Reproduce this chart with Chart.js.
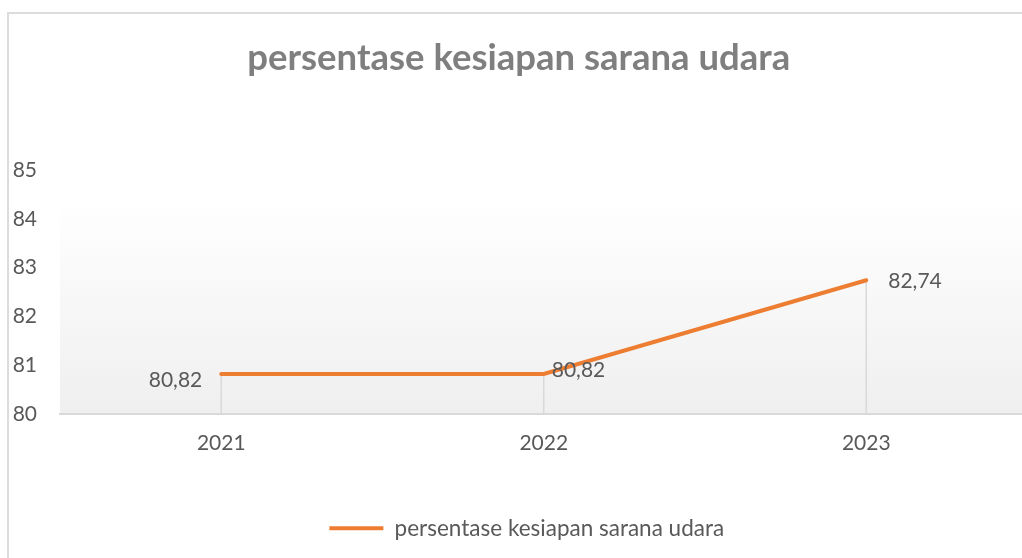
<!DOCTYPE html>
<html>
<head>
<meta charset="utf-8">
<script src="https://cdn.jsdelivr.net/npm/chart.js@4/dist/chart.umd.min.js"></script>
<style>
    body { margin: 0; background: #fff; overflow: hidden; }
    #wrap { position: relative; width: 1040px; height: 558px; }
    #frame { position: absolute; left: 7px; top: 12px; width: 1100px; height: 600px; border: 2px solid #dcdcdc; }
    canvas { position: absolute; left: 0; top: 0; }
</style>
</head>
<body>
<div id="wrap">
    <div id="frame"></div>
    <canvas id="lineChart" width="1040" height="558"></canvas>
</div>
<script>
// Data
const years = ['2021', '2022', '2023'];
const kesiapan = [80.82, 80.82, 82.74];
const yTicks = [80, 81, 82, 83, 84, 85];
const seriesName = 'persentase kesiapan sarana udara';

// label placement per point (dx, dy from the point)
const labelPlace = [
    { align: 'right', dx: -19, dy: 6 },
    { align: 'left', dx: 8, dy: -4 },
    { align: 'left', dx: 22, dy: 1 }
];

const fontFamily = 'Lato, "Open Sans", sans-serif';
const textGray = '#595959';

function fmt(v) {
    return v.toFixed(2).replace('.', ',');
}

const plotBackground = {
    id: 'plotBackground',
    beforeDraw(chart) {
        const { ctx, chartArea } = chart;
        const top = chartArea.top + 30;
        const g = ctx.createLinearGradient(0, top, 0, chartArea.bottom);
        g.addColorStop(0, '#ffffff');
        g.addColorStop(1, '#efefef');
        ctx.save();
        ctx.fillStyle = g;
        ctx.fillRect(chartArea.left, top, chartArea.right - chartArea.left, chartArea.bottom - top);
        ctx.restore();
    }
};

// nudge the legend a little to the right, like the original
const legendShift = {
    id: 'legendShift',
    afterLayout(chart) {
        chart.legend.left += 8;
        chart.legend.right += 8;
    }
};

const dropLines = {
    id: 'dropLines',
    beforeDatasetsDraw(chart) {
        const { ctx, chartArea } = chart;
        const meta = chart.getDatasetMeta(0);
        ctx.save();
        ctx.strokeStyle = '#d9d9d9';
        ctx.lineWidth = 1.5;
        meta.data.forEach(pt => {
            ctx.beginPath();
            ctx.moveTo(pt.x, pt.y);
            ctx.lineTo(pt.x, chartArea.bottom);
            ctx.stroke();
        });
        ctx.restore();
    }
};

const valueLabels = {
    id: 'valueLabels',
    afterDatasetsDraw(chart) {
        const { ctx } = chart;
        const meta = chart.getDatasetMeta(0);
        ctx.save();
        ctx.font = '21px ' + fontFamily;
        ctx.fillStyle = textGray;
        ctx.textBaseline = 'middle';
        meta.data.forEach((pt, i) => {
            const p = labelPlace[i];
            ctx.textAlign = p.align;
            ctx.fillText(fmt(kesiapan[i]), pt.x + p.dx, pt.y + p.dy);
        });
        ctx.restore();
    }
};

const ctx = document.getElementById('lineChart').getContext('2d');
new Chart(ctx, {
    type: 'line',
    data: {
        labels: years,
        datasets: [{
            label: seriesName,
            data: kesiapan,
            borderColor: '#ED7D31',
            backgroundColor: '#ED7D31',
            borderWidth: 4,
            borderCapStyle: 'round',
            pointRadius: 0,
            pointHoverRadius: 0,
            tension: 0
        }]
    },
    options: {
        responsive: false,
        animation: false,
        layout: { padding: { left: 10, right: 12.5, top: 0, bottom: 8.5 } },
        plugins: {
            title: {
                display: true,
                text: seriesName,
                color: '#7f7f7f',
                font: { family: fontFamily, size: 36.5, weight: 'bold' },
                padding: { top: 36, bottom: 90.2 }
            },
            legend: {
                position: 'bottom',
                labels: {
                    usePointStyle: true,
                    pointStyle: 'line',
                    pointStyleWidth: 54,
                    color: textGray,
                    font: { family: fontFamily, size: 22.5 },
                    padding: 10
                }
            },
            tooltip: { enabled: false }
        },
        scales: {
            x: {
                offset: true,
                grid: { display: false, drawTicks: false },
                border: { display: true, color: '#d9d9d9', width: 2 },
                ticks: { color: textGray, font: { family: fontFamily, size: 21 }, padding: 17 },
                afterFit: s => { s.height = 93; }
            },
            y: {
                min: 80,
                max: 85,
                afterBuildTicks: s => { s.ticks = yTicks.map(v => ({ value: v })); },
                grid: { display: false, drawTicks: false },
                border: { display: false },
                ticks: { color: textGray, font: { family: fontFamily, size: 21 }, padding: 23 },
                afterFit: s => { s.width = 50; }
            }
        }
    },
    plugins: [plotBackground, legendShift, dropLines, valueLabels]
});
</script>
</body>
</html>
